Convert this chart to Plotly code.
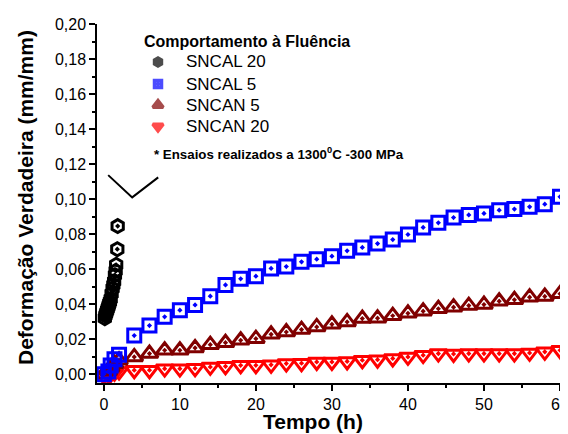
import plotly.graph_objects as go

# ---- data ----
sncal20_x = [0.13, 0.2, 0.28, 0.35, 0.43, 0.5, 0.58, 0.65, 0.72, 0.8, 0.9, 1.02, 1.15,
             1.25, 1.35, 1.46, 1.55, 1.62, 1.77, 1.82]
sncal20_y = [0.032, 0.0335, 0.0345, 0.0355, 0.0365, 0.0375, 0.0385, 0.0395, 0.0405, 0.0415,
             0.043, 0.046, 0.049, 0.051, 0.053, 0.0566, 0.059, 0.0625, 0.0714, 0.0846]

t_x = [0, 0.6, 0.9, 1.4, 2, 4, 6, 8, 10, 12, 14, 16, 18, 20, 22, 24, 26, 28, 30, 32, 34, 36,
       38, 40, 42, 44, 46, 48, 50, 52, 54, 56, 58, 60]

sncal5_y = [0.0, 0.0015, 0.005, 0.0085, 0.0112, 0.0221, 0.0278, 0.0328, 0.0366, 0.0396,
            0.0446, 0.051, 0.0545, 0.056, 0.0604, 0.0615, 0.0642, 0.0657, 0.0674, 0.0705,
            0.0724, 0.0746, 0.0769, 0.0798, 0.0838, 0.0865, 0.0895, 0.091, 0.0918, 0.0937,
            0.0943, 0.0956, 0.0971, 0.1013]

sncan5_y = [0.0, 0.002, 0.004, 0.006, 0.008, 0.0099, 0.0118, 0.0137, 0.0137, 0.015,
            0.0169, 0.018, 0.0194, 0.0203, 0.0228, 0.0241, 0.0255, 0.027, 0.0285, 0.0299,
            0.0318, 0.032, 0.0334, 0.0348, 0.036, 0.0374, 0.0383, 0.0392, 0.0398, 0.0417,
            0.0425, 0.044, 0.0444, 0.0459]

sncan20_y = [-0.001, -0.0005, 0.0, 0.0008, 0.0015, 0.0023, 0.0023, 0.0032, 0.0032, 0.0034,
             0.0042, 0.0045, 0.0051, 0.0051, 0.0054, 0.0061, 0.0063, 0.007, 0.007, 0.0073,
             0.008, 0.0083, 0.009, 0.0099, 0.0109, 0.0118, 0.0116, 0.0118, 0.0118, 0.0118,
             0.0118, 0.0122, 0.0128, 0.0137]

vline_x = [0.57, 3.73, 7.15]
vline_y = [0.1137, 0.101, 0.1124]

names = ["SNCAL 20", "SNCAL 5", "SNCAN 5", "SNCAN 20"]
colors = ["#000000", "#0000FF", "#800000", "#FF0000"]
symbols = ["hexagon-open-dot", "square-open-dot", "triangle-up-open-dot", "triangle-down-open-dot"]
legend_title = "Comportamento à Fluência"
note = "* Ensaios realizados a 1300<sup>0</sup>C -300 MPa"
x_title = "Tempo (h)"
y_title = "Deformação Verdadeira (mm/mm)"

FONT = "Arial, Liberation Sans, sans-serif"

# ---- layout geometry (page body adds an 8 px offset) ----
OFF = 8
W, H = 568 - OFF, 434 - OFF
PL, PR, PT, PB = 97, 560, 24, 383          # plot box in window pixels


def px(X):
    return (X - PL) / (PR - PL)


def py(Y):
    return (PB - Y) / (PB - PT)


fig = go.Figure()

series = [(sncal20_x, sncal20_y, 13), (t_x, sncal5_y, 13), (t_x, sncan5_y, 15), (t_x, sncan20_y, 15)]
for i in [3, 2, 1, 0]:
    xs, ys, sz = series[i]
    fig.add_trace(go.Scatter(
        x=xs, y=ys, mode="markers", showlegend=False,
        marker=dict(symbol=symbols[i], size=sz, color=colors[i],
                    line=dict(width=3, color=colors[i]))))

fig.add_trace(go.Scatter(x=vline_x, y=vline_y, mode="lines", showlegend=False,
                         line=dict(color="black", width=2)))

# manual legend: symbols on an overlay axis in plot-fraction units
leg_sym_x = 158
leg_rows = [62, 84, 105, 126.5]
leg_sizes = [8, 7, 9, 9]
fig.add_trace(go.Scatter(
    x=[px(leg_sym_x)] * 4, y=[py(r) for r in leg_rows], mode="markers",
    xaxis="x2", yaxis="y2", showlegend=False, hoverinfo="skip",
    marker=dict(symbol=symbols, size=leg_sizes, color=colors,
                line=dict(width=3.5, color=colors))))

annotations = [
    dict(text=f"<b>{legend_title}</b>", xref="paper", yref="paper",
         x=px(142), y=py(41.7), xanchor="left", yanchor="middle", showarrow=False,
         font=dict(size=16, family=FONT)),
    dict(text=f"<b>{note}</b>", xref="paper", yref="paper",
         x=px(151.5), y=py(153.5), xanchor="left", yanchor="middle", showarrow=False,
         font=dict(size=13.3, family=FONT)),
    dict(text=f"<b>{x_title}</b>", xref="paper", yref="paper", borderpad=0,
         x=px(312.5), y=py(421.5), xanchor="center", yanchor="middle", showarrow=False,
         font=dict(size=21, family=FONT)),
    dict(text=f"<b>{y_title}</b>", xref="paper", yref="paper", textangle=-90, borderpad=0,
         x=px(25), y=py(198), xanchor="center", yanchor="middle", showarrow=False,
         font=dict(size=21, family=FONT)),
]
for n, r in zip(names, leg_rows):
    annotations.append(dict(text=n, xref="paper", yref="paper", x=px(184), y=py(r),
                            xanchor="left", yanchor="middle", showarrow=False,
                            font=dict(size=17, family=FONT)))

axis_common = dict(
    showgrid=False, zeroline=False, automargin=False,
    showline=True, linecolor="black", linewidth=1.5,
    ticks="outside", tickwidth=1.5, ticklen=6, tickcolor="black",
    tickfont=dict(size=16), ticklabeloverflow="allow",
)

fig.update_layout(
    width=W, height=H,
    margin=dict(l=PL - OFF, r=W - (PR - OFF), t=PT - OFF, b=H - (PB - OFF)),
    paper_bgcolor="white", plot_bgcolor="white",
    separators=",.",
    showlegend=False,
    font=dict(family=FONT, color="black", size=16),
    annotations=annotations,
    xaxis=dict(range=[-0.9, 60], dtick=10, tick0=0,
               minor=dict(dtick=5, ticks="outside", ticklen=3, tickwidth=1.5, tickcolor="black"),
               **axis_common),
    yaxis=dict(range=[-0.005, 0.2], dtick=0.02, tick0=0, tickformat=".2f",
               minor=dict(dtick=0.01, ticks="outside", ticklen=3, tickwidth=1.5, tickcolor="black"),
               **axis_common),
    xaxis2=dict(range=[0, 1], overlaying="x", visible=False, fixedrange=True),
    yaxis2=dict(range=[0, 1], overlaying="y", visible=False, fixedrange=True),
)

fig.write_html("out.html")
